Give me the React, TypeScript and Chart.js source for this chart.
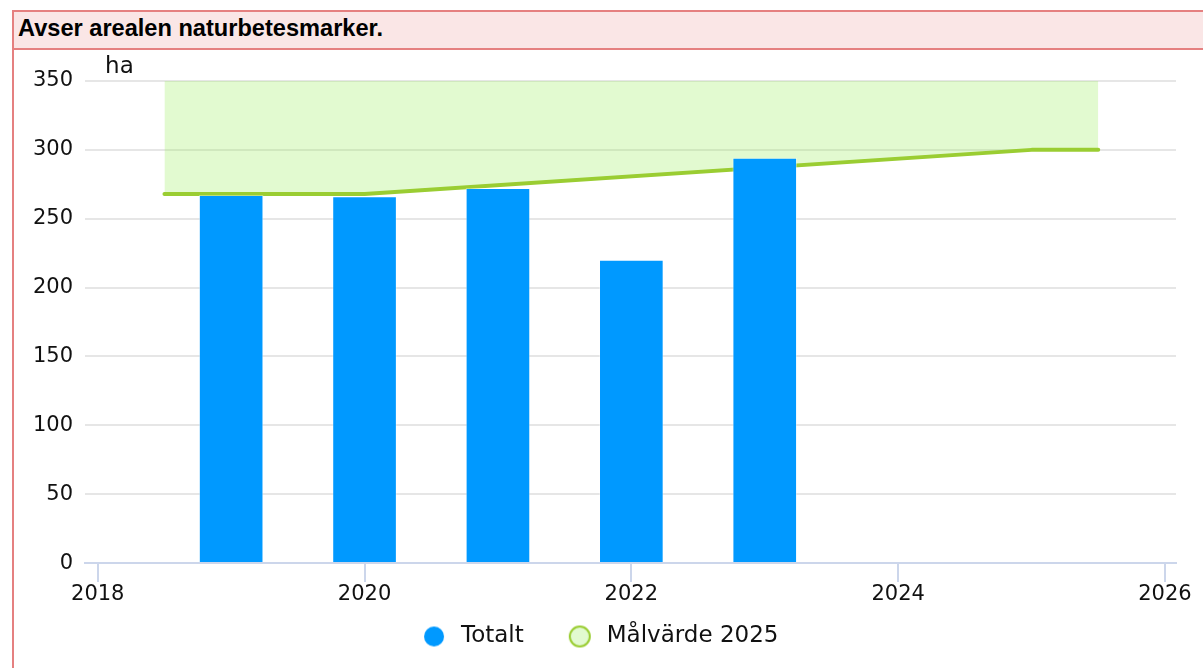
import React, { useEffect, useRef } from 'react';
import { Chart, registerables } from 'chart.js';

Chart.register(...registerables);

const titleText = 'Avser arealen naturbetesmarker.';
const unitText = 'ha';
const seriesNames = ['Totalt', 'Målvärde 2025'];
const barYears = [2019, 2020, 2021, 2022, 2023];
const barValues = [267, 266, 272, 220, 294];
const targetYears = [2018.5, 2020, 2025, 2025.5];
const targetValues = [268, 268, 300, 300];
const xTickValues = [2018, 2020, 2022, 2024, 2026];
const yMin = 0;
const yMax = 350;
const yStep = 50;

const FONT = "'DejaVu Sans', 'Liberation Sans', sans-serif";
const BAR_COLOR = '#0099ff';
const LINE_COLOR = '#9acd32';
const FILL_COLOR = 'rgba(160,240,100,0.3)';

function makeDot(fill: string, stroke: string | null, strokeWidth: number): HTMLCanvasElement {
  const c = document.createElement('canvas');
  c.width = 24;
  c.height = 24;
  const g = c.getContext('2d')!;
  g.beginPath();
  g.arc(12, 12, 10, 0, Math.PI * 2);
  g.fillStyle = '#fff';
  g.fill();
  g.fillStyle = fill;
  g.fill();
  if (stroke) {
    g.lineWidth = strokeWidth;
    g.strokeStyle = stroke;
    g.stroke();
  }
  return c;
}

const unitPlugin = {
  id: 'unitLabel',
  afterDraw(chart: any) {
    const { ctx, chartArea } = chart;
    ctx.save();
    ctx.font = `23px ${FONT}`;
    ctx.fillStyle = '#111';
    ctx.textBaseline = 'alphabetic';
    ctx.textAlign = 'left';
    ctx.fillText(unitText, chartArea.left + 20, chartArea.top - 8);
    ctx.restore();
  },
};

export default function App() {
  const canvasRef = useRef<HTMLCanvasElement | null>(null);

  useEffect(() => {
    if (!canvasRef.current) return;
    Chart.defaults.font.family = FONT;
    const dots = [makeDot(BAR_COLOR, null, 0), makeDot(FILL_COLOR, LINE_COLOR, 2)];
    const chart = new Chart(canvasRef.current, {
      type: 'bar',
      data: {
        datasets: [
          {
            type: 'bar',
            label: seriesNames[0],
            data: barYears.map((x, i) => ({ x, y: barValues[i] })),
            backgroundColor: BAR_COLOR,
            borderColor: 'rgba(255,255,255,0.35)',
            borderWidth: 1,
            barThickness: 64,
            order: 0,
          } as any,
          {
            type: 'line',
            label: seriesNames[1],
            data: targetYears.map((x, i) => ({ x, y: targetValues[i] })),
            borderColor: LINE_COLOR,
            backgroundColor: FILL_COLOR,
            borderWidth: 4,
            pointRadius: 0,
            pointHoverRadius: 0,
            fill: 'end',
            tension: 0,
            borderCapStyle: 'round',
            borderJoinStyle: 'round',
            order: 1,
          } as any,
        ],
      },
      options: {
        responsive: false,
        animation: false,
        layout: { padding: { left: 7, right: 27, top: 31, bottom: 10 } },
        scales: {
          x: {
            type: 'linear',
            offset: false,
            min: 2017.905,
            max: 2026.083,
            afterBuildTicks: (scale: any) => {
              scale.ticks = xTickValues.map((value) => ({ value }));
            },
            grid: {
              offset: false,
              drawOnChartArea: false,
              drawTicks: true,
              tickLength: 19,
              color: '#ccd6eb',
              lineWidth: 2,
            },
            border: { display: true, color: '#ccd6eb', width: 2, z: 1 },
            ticks: {
              padding: 0,
              autoSkip: false,
              maxRotation: 0,
              font: { size: 21, family: FONT },
              color: '#111',
              callback: (v: any) => String(v),
            },
          },
          y: {
            min: yMin,
            max: yMax,
            ticks: {
              stepSize: yStep,
              padding: 12,
              font: { size: 21, family: FONT },
              color: '#111',
            },
            grid: { color: '#e6e6e6', lineWidth: 2, drawTicks: false },
            border: { display: false },
          },
        },
        plugins: {
          legend: {
            position: 'bottom',
            title: { display: true, text: '', font: { size: 1 }, padding: { top: -24, bottom: 0 } },
            labels: {
              usePointStyle: true,
              pointStyleWidth: 31,
              boxHeight: 14,
              padding: 40.5,
              color: '#111',
              font: { size: 23, family: FONT },
              generateLabels: (c: any) => {
                const items = (Chart.defaults.plugins.legend.labels as any).generateLabels(c);
                items.forEach((it: any) => {
                  it.pointStyle = dots[it.datasetIndex] || it.pointStyle;
                  it.lineWidth = 0;
                });
                return items;
              },
            },
          },
          tooltip: { enabled: false },
        },
      } as any,
      plugins: [unitPlugin],
    });
    return () => chart.destroy();
  }, []);

  return (
    <div
      style={{
        position: 'absolute',
        left: 12,
        top: 10,
        width: 1191,
        height: 658,
        overflow: 'hidden',
        borderLeft: '2px solid #e58080',
        borderTop: '2px solid #e58080',
        boxSizing: 'border-box',
        background: '#fff',
      }}
    >
      <div
        style={{
          height: 38,
          boxSizing: 'border-box',
          background: '#fae6e6',
          borderBottom: '2px solid #e58080',
          paddingLeft: 4,
          paddingTop: 3,
          fontFamily: "'Liberation Sans', Arial, sans-serif",
          fontWeight: 'bold',
          fontSize: 23.6,
          color: '#000',
          whiteSpace: 'nowrap',
        }}
      >
        {titleText}
      </div>
      <canvas ref={canvasRef} width={1189} height={618} style={{ display: 'block' }} />
    </div>
  );
}
